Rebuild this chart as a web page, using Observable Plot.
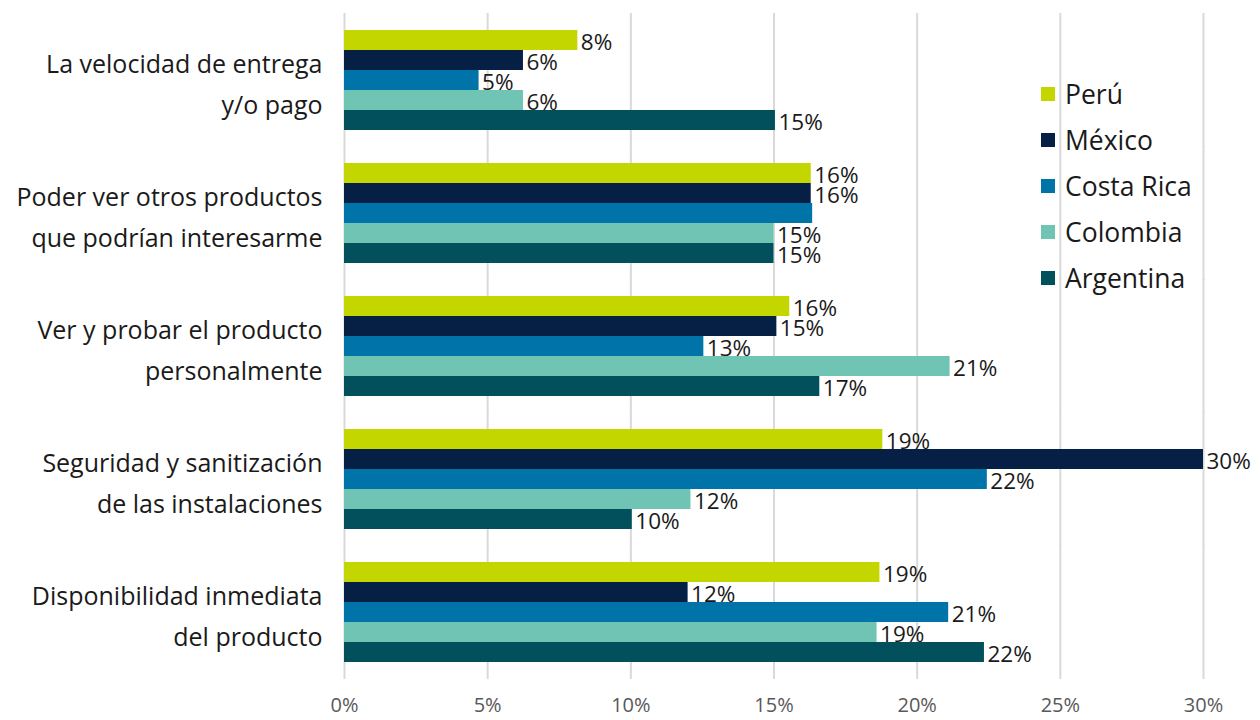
<!DOCTYPE html>
<html>
<head>
<meta charset="utf-8">
<script src="https://cdn.jsdelivr.net/npm/d3@7"></script>
<script src="https://cdn.jsdelivr.net/npm/@observablehq/plot@0.6"></script>
<style>
  html, body { margin: 0; padding: 0; background: #fff; }
  #wrap { position: relative; width: 1260px; height: 720px; font-family: "Open Sans", sans-serif; }
  #legend { position: absolute; left: 1041px; top: 71px; }
  .li { display: flex; align-items: center; height: 46px; font-size: 26.5px; color: #1a1a1a; }
  .sw { width: 14px; height: 14px; margin-right: 10px; }
</style>
</head>
<body>
<div id="wrap"><div id="chart"></div><div id="legend"></div></div>
<script>
const categories = [
  "La velocidad de entrega\ny/o pago",
  "Poder ver otros productos\nque podrían interesarme",
  "Ver y probar el producto\npersonalmente",
  "Seguridad y sanitización\nde las instalaciones",
  "Disponibilidad inmediata\ndel producto"
];
const series = ["Perú", "México", "Costa Rica", "Colombia", "Argentina"];
const colors = ["#c4d600", "#061f45", "#0074a8", "#70c4b4", "#02505b"];
const peru      = [8.15, 16.3, 15.55, 18.8, 18.7];
const mexico    = [6.25, 16.3, 15.1, 30.0, 12.0];
const costaRica = [4.7, 16.35, 12.55, 22.45, 21.1];
const colombia  = [6.25, 15.0, 21.15, 12.1, 18.6];
const argentina = [15.05, 15.0, 16.6, 10.05, 22.35];
const labelPeru      = ["8%", "16%", "16%", "19%", "19%"];
const labelMexico    = ["6%", "16%", "15%", "30%", "12%"];
const labelCostaRica = ["5%", "", "13%", "22%", "21%"];
const labelColombia  = ["6%", "15%", "21%", "12%", "19%"];
const labelArgentina = ["15%", "15%", "17%", "10%", "22%"];
const xTicks = [0, 5, 10, 15, 20, 25, 30];
const xTickLabels = ["0%", "5%", "10%", "15%", "20%", "25%", "30%"];

const values = [peru, mexico, costaRica, colombia, argentina];
const labels = [labelPeru, labelMexico, labelCostaRica, labelColombia, labelArgentina];
const rows = [];
categories.forEach((c, ci) => {
  series.forEach((s, si) => {
    rows.push({cat: c, series: s, value: values[si][ci], label: labels[si][ci]});
  });
});

const chart = Plot.plot({
  width: 1260,
  height: 720,
  marginLeft: 344,
  marginRight: 57,
  marginTop: 28,
  marginBottom: 55,
  style: {fontFamily: "'Open Sans', sans-serif", background: "#fff", fontSize: "20px", color: "#595959"},
  facet: {data: rows, y: "cat"},
  fy: {domain: categories, paddingInner: 0.23, paddingOuter: 0, axis: null},
  y: {domain: series, padding: 0, axis: null},
  x: {domain: [0, 30], axis: "bottom", ticks: xTicks, tickFormat: d => xTickLabels[xTicks.indexOf(d)], tickSize: 0, tickPadding: 34, line: false, label: null},
  color: {domain: series, range: colors},
  marks: [
    Plot.ruleX(xTicks, {x: d => d, stroke: "#d9d9d9", strokeWidth: 2, insetTop: -16, insetBottom: -16}),
    Plot.barX(rows, {x: "value", y: "series", fill: "series"}),
    Plot.text(rows, {x: "value", y: "series", text: "label", textAnchor: "start", dx: 3, dy: 2, fontSize: 22.5, fill: "#1a1a1a"}),
    Plot.text(rows, {filter: d => d.series === "Perú", frameAnchor: "left", text: "cat", textAnchor: "end", dx: -22, fontSize: 25, lineHeight: 1.62, fill: "#1a1a1a"})
  ]
});
document.getElementById("chart").appendChild(chart);

const legend = document.getElementById("legend");
series.forEach((s, i) => {
  const row = document.createElement("div");
  row.className = "li";
  const sw = document.createElement("div");
  sw.className = "sw";
  sw.style.background = colors[i];
  const t = document.createElement("span");
  t.textContent = s;
  row.appendChild(sw);
  row.appendChild(t);
  legend.appendChild(row);
});
</script>
</body>
</html>
